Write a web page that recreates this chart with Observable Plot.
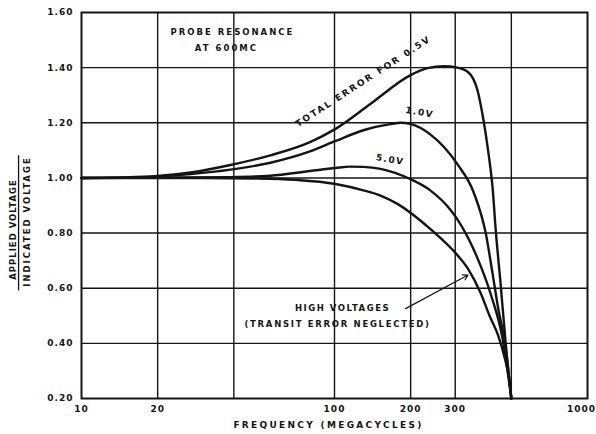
<!DOCTYPE html>
<html>
<head>
<meta charset="utf-8">
<script src="https://cdn.jsdelivr.net/npm/d3@7"></script>
<script src="https://cdn.jsdelivr.net/npm/@observablehq/plot@0.6"></script>
<style>
  html, body { margin: 0; padding: 0; background: #fff; }
</style>
</head>
<body>
<div id="chart"></div>
<script>
// ---- Data ----
// Frequency (megacycles) and ratio applied/indicated voltage
const freq05 = [10, 15, 20, 27, 38.8, 55.8, 80, 101, 139, 199, 233, 270, 306, 336, 367, 388, 406, 422, 433, 453, 474, 500];
const ratio05 = [1.00, 1.002, 1.007, 1.02, 1.047, 1.082, 1.13, 1.178, 1.269, 1.372, 1.398, 1.405, 1.40, 1.385, 1.32, 1.21, 1.09, 0.96, 0.82, 0.62, 0.41, 0.20];

const freq10 = [10, 18.8, 27, 38.8, 55.8, 80, 101, 130, 166, 183, 199, 239, 306, 354, 396, 422, 443, 470, 500];
const ratio10 = [1.00, 1.004, 1.014, 1.03, 1.055, 1.096, 1.134, 1.173, 1.195, 1.20, 1.196, 1.158, 1.05, 0.95, 0.80, 0.65, 0.53, 0.41, 0.20];

const freq50 = [10, 20, 38.8, 55.8, 80, 101, 115, 130, 152, 199, 239, 287, 306, 367, 414, 461, 500];
const ratio50 = [1.00, 1.001, 1.003, 1.008, 1.025, 1.036, 1.041, 1.04, 1.033, 0.996, 0.955, 0.885, 0.85, 0.71, 0.58, 0.42, 0.20];

const freqHV = [10, 30, 50, 70, 101, 130, 152, 178, 239, 306, 340, 377, 410, 443, 470, 490, 500];
const ratioHV = [1.00, 1.00, 0.998, 0.993, 0.978, 0.955, 0.936, 0.905, 0.815, 0.72, 0.665, 0.585, 0.50, 0.43, 0.35, 0.27, 0.20];

const seriesNames = ["0.5V", "1.0V", "5.0V", "HIGH"];

// Axis ticks and labels
const xTickValues = [10, 20, 40, 100, 200, 300, 500, 1000];
const xTickLabels = ["10", "20", "50", "100", "200", "300", "500", "1000"];
const xGridValues = [20, 40, 100, 200, 300, 500];
const yTickValues = [0.2, 0.4, 0.6, 0.8, 1.0, 1.2, 1.4, 1.6];
const yGridValues = [0.4, 0.6, 0.8, 1.0, 1.2, 1.4];

// ---- Build table ----
const table = [];
[[freq05, ratio05], [freq10, ratio10], [freq50, ratio50], [freqHV, ratioHV]].forEach(([fs, rs], k) => {
  fs.forEach((f, i) => table.push({series: seriesNames[k], freq: f, ratio: rs[i]}));
});

const labelOf = new Map(xTickValues.map((v, i) => [v, xTickLabels[i]]));
const ink = "#141414";

const plot = Plot.plot({
  width: 596,
  height: 434,
  marginLeft: 81,
  marginRight: 9,
  marginTop: 12,
  marginBottom: 36,
  x: {type: "log", domain: [10, 1000]},
  y: {domain: [0.2, 1.6]},
  style: {
    fontFamily: "'DejaVu Sans', sans-serif",
    fontSize: "9px",
    fontWeight: "bold",
    color: ink,
    background: "#fff",
    letterSpacing: "1px"
  },
  marks: [
    Plot.gridX(xGridValues, {stroke: ink, strokeOpacity: 1, strokeWidth: 1.4}),
    Plot.gridY(yGridValues, {stroke: ink, strokeOpacity: 1, strokeWidth: 1.4}),
    Plot.frame({stroke: ink, strokeWidth: 2}),
    Plot.axisX(xTickValues.filter(d => d !== 1000), {
      tickSize: 0, tickPadding: 7, label: null,
      tickFormat: d => labelOf.get(d), fill: ink
    }),
    Plot.axisX([1000], {
      tickSize: 0, tickPadding: 7, label: null, dx: -6,
      tickFormat: d => labelOf.get(d), fill: ink
    }),
    Plot.axisY(yTickValues, {
      tickSize: 0, tickPadding: 8, label: null,
      tickFormat: d3.format(".2f"), fill: ink
    }),
    Plot.line(table, {
      x: "freq", y: "ratio", z: "series",
      stroke: ink, strokeWidth: 2.4, curve: "monotone-x"
    }),
    // annotations
    Plot.text(["PROBE RESONANCE"], {x: () => 39.5, y: () => 1.527, fontSize: 8.5, ariaDescription: "wide"}),
    Plot.text(["AT 600MC"], {x: () => 37.4, y: () => 1.47, fontSize: 8.5, ariaDescription: "wide"}),
    Plot.text(["TOTAL ERROR FOR 0.5V"], {x: () => 130, y: () => 1.35, rotate: -33, fontSize: 9, ariaDescription: "wide"}),
    Plot.text(["1.0V"], {x: () => 217, y: () => 1.238, rotate: 10, fontSize: 9, ariaDescription: "mid"}),
    Plot.text(["5.0V"], {x: () => 166, y: () => 1.066, rotate: 10, fontSize: 9, ariaDescription: "mid"}),
    Plot.text(["HIGH VOLTAGES"], {x: () => 107.6, y: () => 0.528, fontSize: 8.5, ariaDescription: "mid"}),
    Plot.text(["(TRANSIT ERROR NEGLECTED)"], {x: () => 102.8, y: () => 0.47, fontSize: 8.5, ariaDescription: "semi"}),
    Plot.arrow([0], {
      x1: () => 191, y1: () => 0.526, x2: () => 337, y2: () => 0.648,
      stroke: ink, strokeWidth: 1.2, headLength: 7
    }),
    // axis titles
    Plot.text(["FREQUENCY (MEGACYCLES)"], {frameAnchor: "bottom", dy: 29, dx: -6, fontSize: 9, ariaDescription: "xlabel"}),
    Plot.text(["APPLIED VOLTAGE"], {frameAnchor: "left", textAnchor: "middle", rotate: -90, dx: -68, dy: 24, fontSize: 8.5, ariaDescription: "ylabel1"}),
    Plot.text(["INDICATED VOLTAGE"], {frameAnchor: "left", textAnchor: "middle", rotate: -90, dx: -54, dy: 16, fontSize: 8.5, ariaDescription: "ylabel2"}),
    // fraction bar between the two parts of the y-axis title
    Plot.ruleX([5.64], {y1: () => 1.081, y2: () => 0.59, stroke: ink, strokeWidth: 1.3})
  ]
});

const svg = d3.select(plot);
svg.selectAll("[aria-description=wide] text").style("letter-spacing", "2px");
svg.selectAll("[aria-description=mid] text").style("letter-spacing", "1.5px");
svg.selectAll("[aria-description=semi] text").style("letter-spacing", "1.7px");
svg.selectAll("[aria-description=xlabel] text").style("letter-spacing", "2.3px");
svg.selectAll("[aria-description=ylabel1] text").style("letter-spacing", "1px");
svg.selectAll("[aria-description=ylabel2] text").style("letter-spacing", "2px");

document.getElementById("chart").appendChild(plot);
</script>
</body>
</html>
